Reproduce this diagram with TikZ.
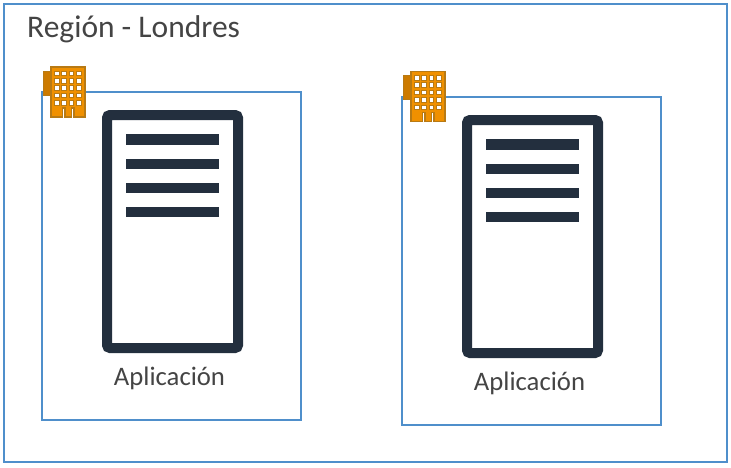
\documentclass[tikz,border=0pt]{standalone}
\usepackage{fontspec}
\setmainfont{Carlito}
\definecolor{zoneblue}{HTML}{4F8FCB}
\definecolor{serverdark}{HTML}{232F3E}
\definecolor{towerorange}{HTML}{F09000}
\definecolor{towerline}{HTML}{B87A14}
\definecolor{labelgrey}{HTML}{444444}
\tikzset{
  zone/.style={draw=zoneblue, line width=2pt, minimum width=259pt, minimum height=328pt, inner sep=0pt},
  caption/.style={text=labelgrey, font=\fontsize{26.7}{30}\selectfont, inner sep=0pt},
  tower/.pic={
    \fill[towerorange!85!black, draw=towerline, line width=0.5pt] (-8,4) rectangle (0,28);
    \draw[fill=towerorange, draw=towerline, line width=1.2pt] (0,0) -- (34,0) -- (34,50) -- (23,50) -- (23,41) -- (20.5,41) -- (20.5,50) -- (14,50) -- (14,41) -- (11.5,41) -- (11.5,50) -- (0,50) -- cycle;
    \foreach \row in {0,...,4} {
      \foreach \col in {0,...,3} {
        \draw[fill=white, draw=towerline, line width=1pt] (3.5+7.4*\col,4+7.4*\row) rectangle ++(4.6,4.6);
      }
    }
  },
  server/.pic={
    \draw[draw=serverdark, fill=white, line width=10pt, rounded corners=3pt] (5,5) rectangle (136,238);
    \fill[serverdark] (24,24) rectangle (117,35);
    \fill[serverdark] (24,48.5) rectangle (117,59);
    \fill[serverdark] (24,73) rectangle (117,83);
    \fill[serverdark] (24,97) rectangle (117,107);
  }
}
\begin{document}
\begin{tikzpicture}[x=1pt, y=-1pt]
\useasboundingbox (0,0) rectangle (731,467);
\node[draw=zoneblue, line width=2pt, minimum width=723pt, minimum height=458pt, inner sep=0pt] (P_region) at (365.5,233) {};
\node[anchor=base west, text=labelgrey, font=\fontsize{31.5}{36}\selectfont, inner sep=0pt] (P_title) at (27,37.5) {Región - Londres};
% first zone
\node[zone] (P_0_0) at (171.5,256) {};
\pic at (102,110) {server};
\pic at (51,67) {tower};
\node[caption, anchor=base] (P_0_1) at (169.5,385) {Aplicación};
% second zone
\node[zone] (P_1_0) at (531.5,260.5) {};
\pic at (462,115) {server};
\pic at (411,71.5) {tower};
\node[caption, anchor=base] (P_1_1) at (529.5,390) {Aplicación};
\end{tikzpicture}
\end{document}
